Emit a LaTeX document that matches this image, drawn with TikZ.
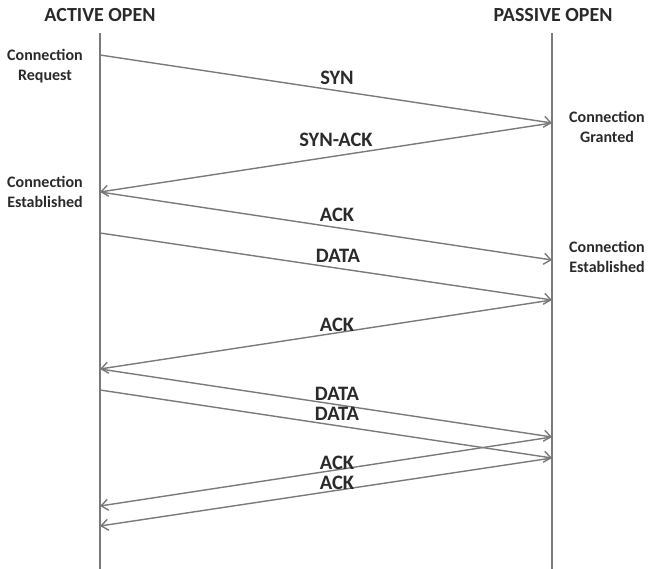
\documentclass[tikz,border=0pt]{standalone}
\usepackage{fontspec}
\setmainfont{Carlito}
\usetikzlibrary{arrows.meta}
\definecolor{linegray}{HTML}{7A7A7A}
\definecolor{txtgray}{HTML}{2A2A2A}
\begin{document}
\begin{tikzpicture}[x=1pt,y=-1pt,
  lifeline/.style={draw=linegray,line width=2pt},
  msg/.style={draw=linegray,line width=1.4pt,-{Straight Barb[length=7pt,width=11pt,line width=1.4pt]}},
  header/.style={text=txtgray,font=\bfseries\fontsize{20}{22}\selectfont,inner sep=0pt},
  side/.style={text=txtgray,font=\bfseries\fontsize{16}{20}\selectfont,align=center,inner sep=0pt},
  msglabel/.style={text=txtgray,font=\bfseries\fontsize{20.5}{22}\selectfont,inner sep=0pt}]
\useasboundingbox (0,0) rectangle (648,569);
% headers
\node[header] (hA) at (100,15) {ACTIVE OPEN};
\node[header] (hP) at (553,15) {PASSIVE OPEN};
% lifelines
\coordinate (Atop) at (100,33);
\coordinate (Abot) at (100,569);
\coordinate (Ptop) at (552,33);
\coordinate (Pbot) at (552,569);
\draw[lifeline] (Atop) -- (Abot);
\draw[lifeline] (Ptop) -- (Pbot);
% points on lifelines
\coordinate (a1) at (100,55);
\coordinate (p1) at (552,123);
\coordinate (a2) at (100,192);
\coordinate (p3) at (552,260);
\coordinate (a4) at (100,233);
\coordinate (p4) at (552,300);
\coordinate (a5) at (100,369);
\coordinate (p6) at (552,437);
\coordinate (a7) at (100,390);
\coordinate (p7) at (552,458);
\coordinate (a8) at (100,506);
\coordinate (a9) at (100,526);
% messages
\draw[msg] (a1) -- (p1);
\draw[msg] (p1) -- (a2);
\draw[msg] (a2) -- (p3);
\draw[msg] (a4) -- (p4);
\draw[msg] (p4) -- (a5);
\draw[msg] (a5) -- (p6);
\draw[msg] (a7) -- (p7);
\draw[msg] (p6) -- (a8);
\draw[msg] (p7) -- (a9);
% message labels
\node[msglabel] (l1) at (337,78) {SYN};
\node[msglabel] (l2) at (336,140) {SYN-ACK};
\node[msglabel] (l3) at (337,215) {ACK};
\node[msglabel] (l4) at (338,256) {DATA};
\node[msglabel] (l5) at (337,325) {ACK};
\node[msglabel] (l6) at (337,394) {DATA};
\node[msglabel] (l7) at (337,414) {DATA};
\node[msglabel] (l8) at (337,463) {ACK};
\node[msglabel] (l9) at (337,483) {ACK};
% side labels
\node[side] (s1) at (45,66) {Connection\\Request};
\node[side] (s2) at (607,127) {Connection\\Granted};
\node[side] (s3) at (45,192) {Connection\\Established};
\node[side] (s4) at (607,257) {Connection\\Established};
\end{tikzpicture}
\end{document}
